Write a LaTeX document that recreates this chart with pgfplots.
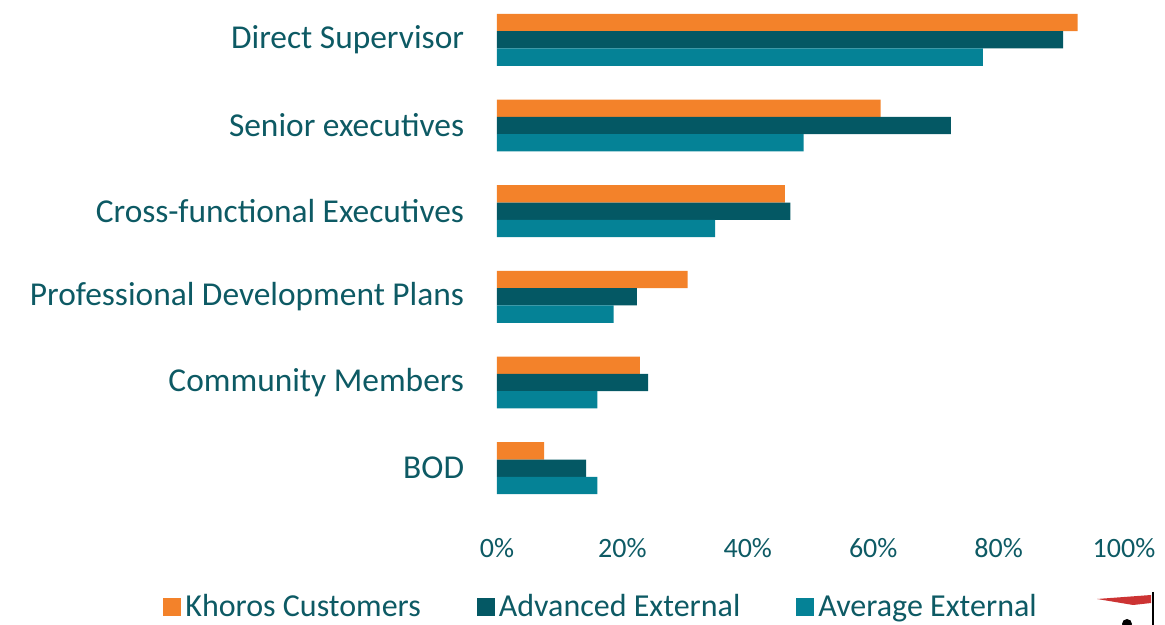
\documentclass[border=0pt]{standalone}
\usepackage{pgfplots}
\pgfplotsset{compat=1.18}
\usepackage{fontspec}
\setmainfont{Carlito}
\definecolor{korange}{HTML}{F3822A}
\definecolor{kdark}{HTML}{045864}
\definecolor{kteal}{HTML}{058296}
\definecolor{ktext}{HTML}{0D5A64}

\begin{document}
\begin{tikzpicture}
\begin{axis}[
    name=ax,
    scale only axis,
    width=313.5pt, height=257pt,
    xbar=0pt,
    bar width=8.65pt,
    xmin=0, xmax=100,
    ymin=-0.5, ymax=5.5,
    y dir=reverse,
    axis line style={draw=none},
    major tick style={draw=none},
    xtick={0,20,40,60,80,100},
    xticklabels={0\%,20\%,40\%,60\%,80\%,100\%},
    xticklabel style={font=\fontsize{14}{16}\selectfont, text=ktext, inner sep=0pt, anchor=north, yshift=-13.5pt},
    ytick={0,1,2,3,4,5},
    yticklabels={Direct Supervisor, Senior executives, Cross-functional Executives, Professional Development Plans, Community Members, BOD},
    yticklabel style={font=\fontsize{16.7}{19}\selectfont, text=ktext, inner sep=0pt, anchor=east, xshift=-12pt},
    legend columns=3,
    legend image code/.code={\fill[#1] (0pt,-4.5pt) rectangle (9pt,4.5pt);},
    legend style={draw=none, fill=none, at={(0.1675,-0.187)}, anchor=center,
        font=\fontsize{16}{18}\selectfont, text=ktext,
        /tikz/every even column/.append style={column sep=26pt},
        inner sep=0pt},
]
\addplot[fill=korange, draw=none, bar shift=8.65pt] coordinates {(92.6,0) (61.2,1) (45.9,2) (30.4,3) (22.8,4) (7.5,5)};
\addlegendentry{Khoros Customers}
\addplot[fill=kdark, draw=none, bar shift=0pt] coordinates {(90.3,0) (72.4,1) (46.8,2) (22.3,3) (24.1,4) (14.2,5)};
\addlegendentry{Advanced External}
\addplot[fill=kteal, draw=none, bar shift=-8.65pt] coordinates {(77.5,0) (48.9,1) (34.8,2) (18.6,3) (16.0,4) (16.0,5)};
\addlegendentry{Average External}
\end{axis}
% logo fragment at the bottom right corner
\fill[red!75!black, opacity=0.8] ([xshift=300pt,yshift=-44pt]ax.south west) -- ([xshift=327pt,yshift=-42pt]ax.south west) -- ([xshift=327pt,yshift=-46pt]ax.south west) -- ([xshift=318pt,yshift=-47pt]ax.south west) -- cycle;
\draw[black, line width=0.8pt] ([xshift=328pt,yshift=-40.5pt]ax.south west) -- ([xshift=328pt,yshift=-58pt]ax.south west);
\fill[black] ([xshift=315pt,yshift=-56.5pt]ax.south west) circle (2.5pt);
\pgfresetboundingbox
\path[use as bounding box] ([xshift=-248.5pt,yshift=-57pt]ax.south west) rectangle ([xshift=334pt,yshift=255.5pt]ax.south west);
\end{tikzpicture}
\end{document}
